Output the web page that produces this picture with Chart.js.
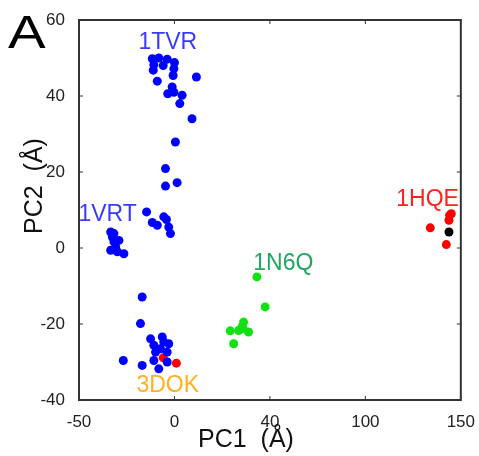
<!DOCTYPE html>
<html>
<head>
<meta charset="utf-8">
<script src="https://cdn.jsdelivr.net/npm/chart.js@4/dist/chart.umd.min.js"></script>
<style>
  html, body { margin: 0; padding: 0; background: #fff; }
  #wrap { width: 479px; height: 456px; }
</style>
</head>
<body>
<div id="wrap"><canvas id="pca"></canvas></div>
<script>
// values
const xTickValues = [-50, 0, 50, 100, 150];
const xTickLabels = ["-50", "0", "40", "100", "150"];
const yTickValues = [-40, -20, 0, 20, 40, 60];

const blueX = [-11.6, -8.2, -3.8, 0, -10.8, -11.1, -5.9, -0.3, -0.7, -9, 11.5, -1.2, -3.5, -0.3, 4, 2.8, 9.2,
    0.5, -4.7, -4.7, 1.4,
    -14.6, -11.6, -9, -5.6, -4.2, -3, -2.1,
    -33.4, -32.5, -31.7, -30.8, -33.4, -29.9, -26.5, -31.7, -29.1,
    -16.9, -17.8, -12.5, -6.4, -3, -10.8, -7.3, -5.6, -9.9, -3.8, -10.8, -3.8, -8.2, -26.8, -16.9];
const blueY = [49.8, 50, 49.7, 48.8, 48.2, 46.8, 48, 47.2, 45.4, 43.9, 45, 42.4, 40.6, 41, 40.2, 38, 34,
    27.9, 20.9, 16.3, 17.2,
    9.5, 6.7, 6, 8.2, 7.5, 5.5, 3.8,
    4.2, 2.9, 1.6, 0.3, -0.6, -1, -1.5, 3.8, 2,
    -12.9, -19.9, -23.9, -23.4, -25.2, -25.6, -26.5, -24.7, -27.4, -27.4, -29.6, -30, -31.8, -29.6, -30.9];

const greenX = [43.2, 47.5, 36.2, 35.3, 38.8, 29.2, 33.6, 31, 35.9];
const greenY = [-7.6, -15.5, -19.5, -20.8, -22.1, -21.8, -21.7, -25.2, -21.2];

const redX = [-5.9, 1, 144.1, 143.8, 145, 134, 142.4];
const redY = [-28.9, -30.3, 8.6, 7.3, 9, 5.3, 0.9];

const blackX = [143.8];
const blackY = [4.2];

const groupNames = ["1TVR", "1VRT", "1N6Q", "1HQE", "3DOK"];
const groupLabelX = [-3.5, -35, 57, 132.6, -3.5];
const groupLabelY = [54, 8.7, -4.2, 12.6, -36.3];
const groupColors = ["#3a3aff", "#3a3aff", "#20a860", "#ff2020", "#ffb020"];

function toPoints(xs, ys) {
    return xs.map((x, i) => ({ x: x, y: ys[i] }));
}

const FONT = "'Liberation Sans', Arial, sans-serif";

const decorations = {
    id: "decorations",
    afterDraw(chart) {
        const ctx = chart.ctx;
        const area = chart.chartArea;
        const xs = chart.scales.x;
        const ys = chart.scales.y;

        ctx.save();

        // frame and inward ticks
        ctx.strokeStyle = "#333";
        ctx.lineWidth = 2;
        ctx.strokeRect(area.left, area.top, area.right - area.left, area.bottom - area.top);
        ctx.lineWidth = 1;
        ctx.beginPath();
        xTickValues.forEach(v => {
            const px = xs.getPixelForValue(v);
            ctx.moveTo(px, area.bottom); ctx.lineTo(px, area.bottom - 4);
            ctx.moveTo(px, area.top); ctx.lineTo(px, area.top + 4);
        });
        yTickValues.forEach(v => {
            const py = ys.getPixelForValue(v);
            ctx.moveTo(area.left, py); ctx.lineTo(area.left + 4, py);
            ctx.moveTo(area.right, py); ctx.lineTo(area.right - 4, py);
        });
        ctx.stroke();

        // group labels
        ctx.font = "23px " + FONT;
        ctx.textAlign = "center";
        ctx.textBaseline = "middle";
        groupNames.forEach((name, i) => {
            ctx.fillStyle = groupColors[i];
            ctx.fillText(name, xs.getPixelForValue(groupLabelX[i]), ys.getPixelForValue(groupLabelY[i]));
        });

        // axis titles
        ctx.fillStyle = "#111";
        ctx.font = "25px " + FONT;
        ctx.fillText("PC1  (Å)", 246, 440);
        ctx.save();
        ctx.translate(35, 186);
        ctx.rotate(-Math.PI / 2);
        ctx.fillText("PC2  (Å)", 0, 0);
        ctx.restore();

        // panel letter
        ctx.save();
        ctx.translate(8, 48);
        ctx.scale(1.2, 1);
        ctx.font = "47px " + FONT;
        ctx.textAlign = "left";
        ctx.textBaseline = "alphabetic";
        ctx.fillStyle = "#000";
        ctx.fillText("A", 0, 0);
        ctx.restore();

        ctx.restore();
    }
};

new Chart(document.getElementById("pca"), {
    type: "scatter",
    data: {
        datasets: [
            { data: toPoints(blueX, blueY), backgroundColor: "#0000ff", borderWidth: 0, pointRadius: 4.5 },
            { data: toPoints(greenX, greenY), backgroundColor: "#11e011", borderWidth: 0, pointRadius: 4.5 },
            { data: toPoints(redX, redY), backgroundColor: "#ff0000", borderWidth: 0, pointRadius: 4.5 },
            { data: toPoints(blackX, blackY), backgroundColor: "#000000", borderWidth: 0, pointRadius: 4.5 }
        ]
    },
    options: {
        responsive: true,
        maintainAspectRatio: false,
        animation: false,
        layout: { padding: { top: 20, right: 17, left: 0, bottom: 0 } },
        plugins: { legend: { display: false }, tooltip: { enabled: false } },
        scales: {
            x: {
                type: "linear",
                min: -50, max: 150,
                afterBuildTicks: axis => { axis.ticks = xTickValues.map(v => ({ value: v })); },
                afterFit: axis => { axis.height = 56; },
                grid: { display: false },
                border: { display: false },
                ticks: {
                    color: "#222",
                    padding: 4,
                    font: { family: FONT, size: 17 },
                    callback: v => xTickLabels[xTickValues.indexOf(v)]
                }
            },
            y: {
                type: "linear",
                min: -40, max: 60,
                afterBuildTicks: axis => { axis.ticks = yTickValues.map(v => ({ value: v })); },
                afterFit: axis => { axis.width = 79; },
                grid: { display: false },
                border: { display: false },
                ticks: {
                    color: "#222",
                    padding: 6,
                    font: { family: FONT, size: 17 }
                }
            }
        }
    },
    plugins: [decorations]
});
</script>
</body>
</html>
